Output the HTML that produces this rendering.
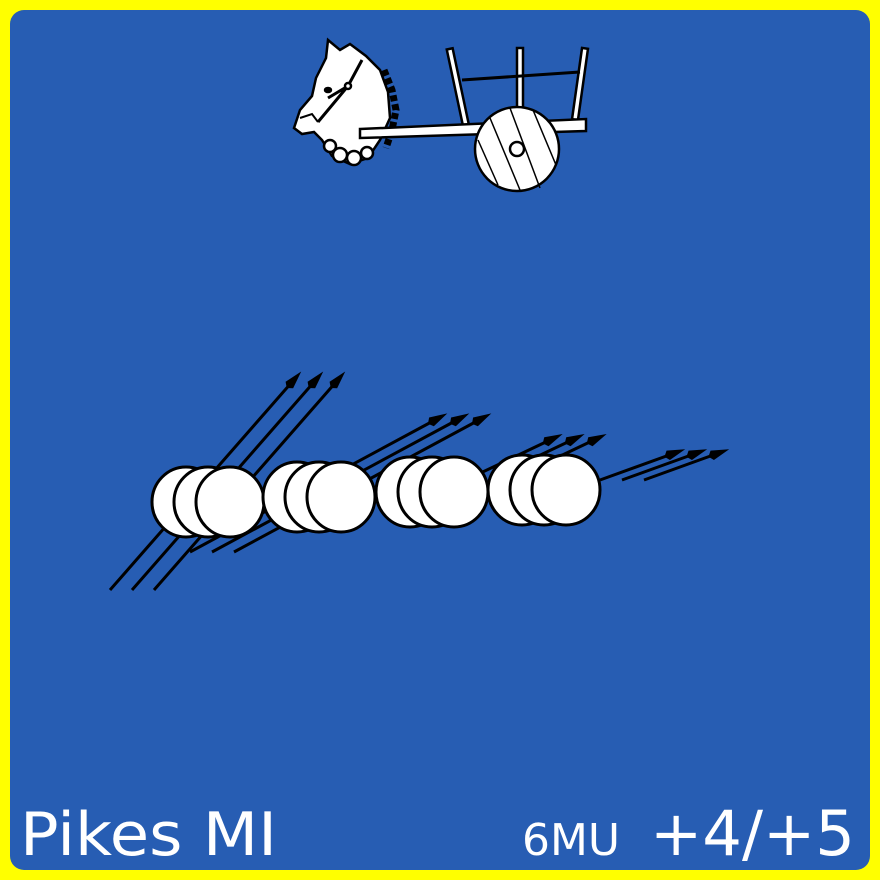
<!DOCTYPE html>
<html><head><meta charset="utf-8"><style>
html,body{margin:0;padding:0;background:#ffff00;}
svg{display:block;}
text{font-family:"DejaVu Sans","Liberation Sans",sans-serif;fill:#fff;}
</style></head><body>
<svg width="880" height="880" viewBox="0 0 880 880">
<rect x="0" y="0" width="880" height="880" fill="#ffff00"/>
<rect x="10" y="10" width="860" height="860" rx="14" fill="#275db3"/>

<g stroke="#000" stroke-width="2.5" fill="#fff">
  <path d="M384 70 L392 90 L396 110 L392 130 L386 148" fill="none" stroke-width="7" stroke-dasharray="6 3"/>
  <path d="M294 128 L300 110 L312 96 L316 78 L326 58 L328 40 L340 50 L350 44 L366 56 L380 70 L388 92 L390 118 L380 140 L368 158 L350 164 L332 156 L322 140 L314 132 L302 134 Z"/>
  <path d="M300 118 L312 114 L318 122" fill="none" stroke-width="2"/>
  <g>
    <circle cx="330" cy="146" r="6"/><circle cx="340" cy="155" r="7"/><circle cx="354" cy="158" r="7"/><circle cx="367" cy="153" r="6"/>
  </g>
  <path d="M328 98 L348 86 L362 60 M348 86 L318 122" fill="none" stroke-width="3"/>
  <circle cx="348" cy="86" r="3"/>
  <ellipse cx="328" cy="90" rx="3" ry="2" fill="#000"/>
  <rect x="455" y="48" width="6" height="80" transform="rotate(-12 458 88)"/>
  <rect x="517" y="48" width="6" height="80"/>
  <rect x="577" y="48" width="6" height="72" transform="rotate(8 580 84)"/>
  <line x1="462" y1="80" x2="580" y2="72" stroke-width="3"/>
  <path d="M360 129 L586 119 L586 131 L360 138 Z"/>
  <circle cx="517" cy="149" r="42"/>
  <g stroke-width="1.5" fill="none">
    <line x1="490" y1="118" x2="520" y2="190"/><line x1="510" y1="108" x2="540" y2="188"/>
    <line x1="478" y1="140" x2="498" y2="185"/><line x1="533" y1="110" x2="556" y2="165"/>
  </g>
  <circle cx="517" cy="149" r="7"/>
</g>

<g id="pikes"></g>

<text x="20" y="855" font-size="60" textLength="257" lengthAdjust="spacingAndGlyphs">Pikes MI</text>
<text x="522" y="855" font-size="44" textLength="98" lengthAdjust="spacingAndGlyphs">6MU</text>
<text x="650" y="855" font-size="62" textLength="205" lengthAdjust="spacingAndGlyphs">+4/+5</text>
</svg>
<script>
const groupShieldX=[186,297,410,522];
const groupShieldY=[502,497,492,490];
const pikeStart=[[110,590],[190,552],[470,478],[600,480]];
const pikeEnd=[[292,382],[435,420],[550,440],[672,454]];
const ns="http://www.w3.org/2000/svg";
const g=document.getElementById('pikes');
function mk(t,a){const e=document.createElementNS(ns,t);for(const k in a)e.setAttribute(k,a[k]);return e;}
for(let i=0;i<4;i++){
  for(let j=0;j<3;j++){
    const dx=j*22;
    const l=mk('line',{x1:pikeStart[i][0]+dx,y1:pikeStart[i][1],x2:pikeEnd[i][0]+dx,y2:pikeEnd[i][1],stroke:'#000','stroke-width':3});
    
    
    g.appendChild(l);
    const ang=Math.atan2(pikeEnd[i][1]-pikeStart[i][1],pikeEnd[i][0]-pikeStart[i][0])*180/Math.PI;
    const h=mk('polygon',{points:'-4,-5 14,0 -4,5 -8,0',fill:'#000',transform:`translate(${pikeEnd[i][0]+dx},${pikeEnd[i][1]}) rotate(${ang})`});
    
    
    g.appendChild(h);
  }
}
for(let i=0;i<4;i++){
  for(let j=0;j<3;j++){
    const c=mk('ellipse',{cx:groupShieldX[i]+j*22,cy:groupShieldY[i],rx:34,ry:35,fill:'#fff',stroke:'#000','stroke-width':3});
    
    
    g.appendChild(c);
  }
}
</script>
</body></html>
